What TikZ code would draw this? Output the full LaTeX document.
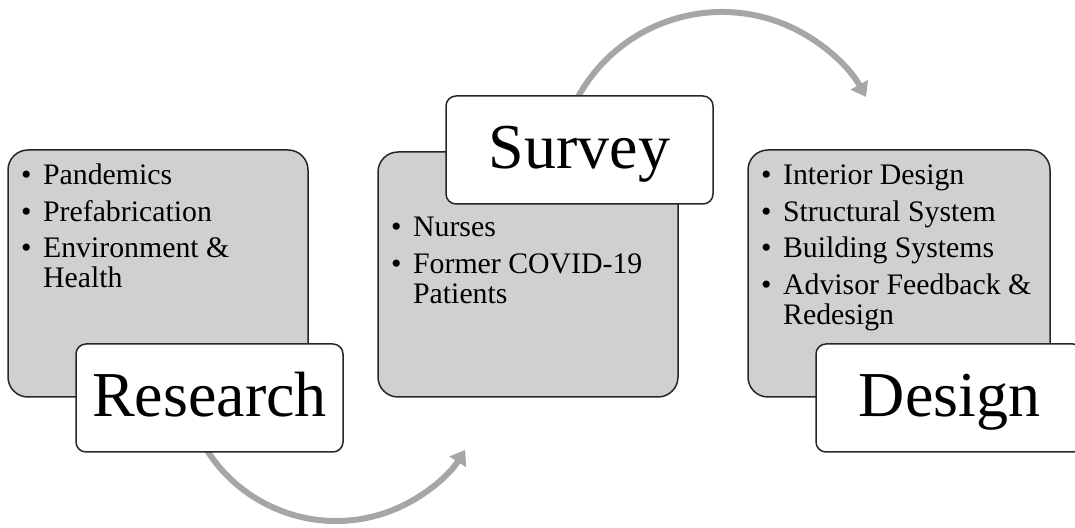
\documentclass[tikz,border=0pt]{standalone}
\usepackage{fontspec}
\setmainfont{Liberation Serif}
\usetikzlibrary{arrows.meta}
\definecolor{boxgray}{HTML}{D0D0D0}
\definecolor{arrowgray}{HTML}{A6A6A6}
\definecolor{edge}{HTML}{262626}
\tikzset{
  graybox/.style={draw=edge, line width=1.5pt, fill=boxgray, rounded corners=20pt, inner sep=0pt},
  labelbox/.style={draw=edge, line width=1.5pt, fill=white, rounded corners=10pt, inner sep=0pt,
    minimum width=267pt, minimum height=108pt, text height=37pt, text depth=0pt,
    font=\fontsize{64}{64}\selectfont},
  listtext/.style={anchor=base west, inner sep=0pt, font=\fontsize{29.8}{30}\selectfont},
  flow/.style={draw=arrowgray, line width=6pt, -{Triangle[length=14pt,width=19pt]}}
}
\newcommand{\bl}{\textbullet}
\begin{document}
\begin{tikzpicture}[x=1pt,y=1pt]
\useasboundingbox (0,0) rectangle (1075,527);
\clip (0,0) rectangle (1075,527);
% arcs (drawn first, boxes cover their tails)
\coordinate (a1s) at ({336+153*cos(205)},{159+153*sin(205)});
\coordinate (a2s) at ({722+164.5*cos(153)},{350.5+164.5*sin(153)});
\draw[flow] (a1s) arc[start angle=205, end angle=327.6, radius=153];
\draw[flow] (a2s) arc[start angle=153, end angle=28.9, radius=164.5];
% gray boxes
\node[graybox, minimum width=300pt, minimum height=247pt] (g1) at (158,253.5) {};
\node[graybox, minimum width=300pt, minimum height=245pt] (g2) at (528,252.5) {};
\node[graybox, minimum width=302pt, minimum height=247pt] (g3) at (899,253.5) {};
% lists
\node[listtext] (l1) at (21,342) {\begin{tabular}[t]{@{}l@{\hspace{11.5pt}}l@{}}
\bl & Pandemics\\[6.5pt]
\bl & Prefabrication\\[6.5pt]
\bl & Environment \&\\
    & Health
\end{tabular}};
\node[listtext] (l2) at (391,290) {\begin{tabular}[t]{@{}l@{\hspace{11.5pt}}l@{}}
\bl & Nurses\\[6.5pt]
\bl & Former COVID-19\\
    & Patients
\end{tabular}};
\node[listtext] (l3) at (761,342) {\begin{tabular}[t]{@{}l@{\hspace{11.5pt}}l@{}}
\bl & Interior Design\\[6.5pt]
\bl & Structural System\\[6.5pt]
\bl & Building Systems\\[6.5pt]
\bl & Advisor Feedback \&\\
    & Redesign
\end{tabular}};
% label boxes
\node[labelbox] (research) at (209.5,129) {Research};
\node[labelbox] (survey) at (579.5,377) {Survey};
\node[labelbox] (design) at (949.5,129) {Design};
\end{tikzpicture}
\end{document}
